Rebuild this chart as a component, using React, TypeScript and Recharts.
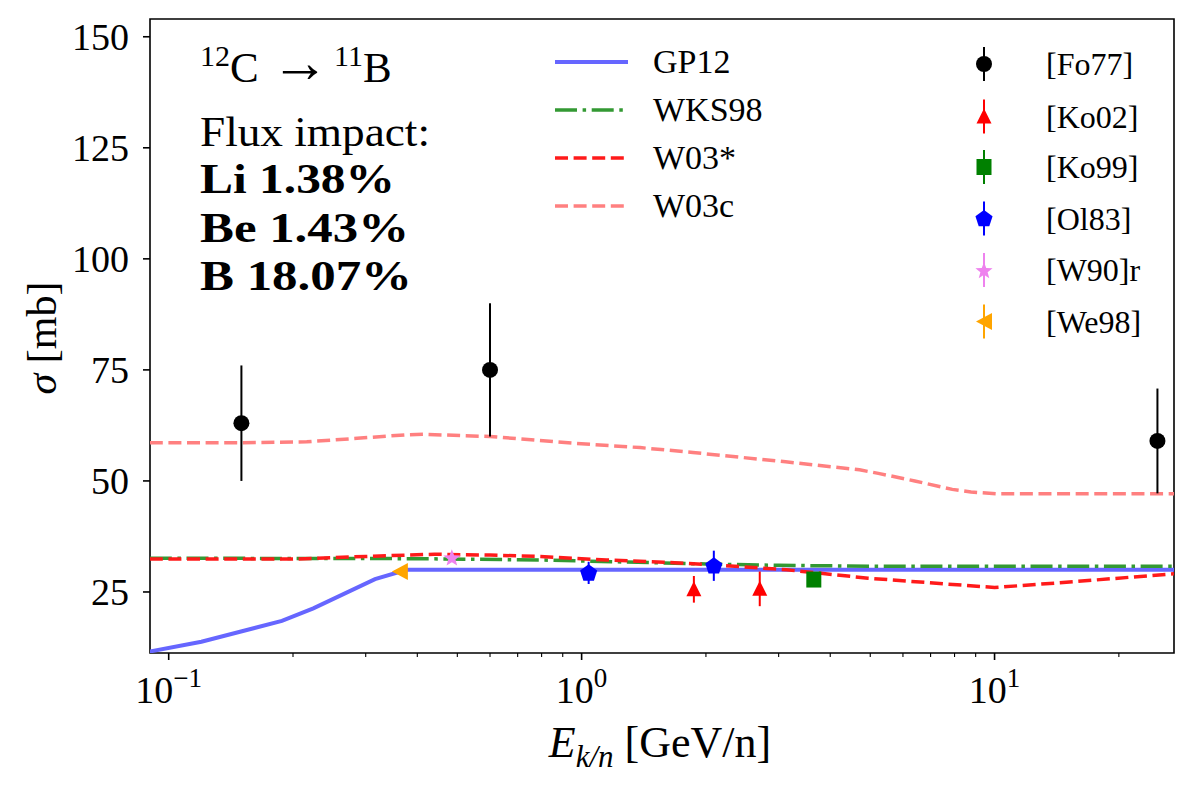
import React from "react";
import { ComposedChart, Line, Scatter, XAxis, YAxis, ErrorBar, ReferenceArea } from "recharts";

const FONT = "'Liberation Serif', 'DejaVu Serif', serif";

// axes
const X_DOMAIN: [number, number] = [0.0901, 27.2];
const Y_DOMAIN: [number, number] = [11.26, 154];
const X_MAJOR = [0.1, 1, 10];
const X_MINOR = [0.2, 0.3, 0.4, 0.5, 0.6, 0.7, 0.8, 0.9, 2, 3, 4, 5, 6, 7, 8, 9, 20];
const Y_TICKS = [25, 50, 75, 100, 125, 150];

// model curves (E in GeV/n, sigma in mb)
const GP12_E = [0.09, 0.12, 0.188, 0.224, 0.316, 0.377, 27.2];
const GP12_S = [11.6, 13.8, 18.5, 21.3, 27.9, 30.0, 30.0];

const WKS98_E = [0.09, 0.4, 0.8, 1.2, 2, 3, 5, 27.2];
const WKS98_S = [32.6, 32.5, 32.2, 31.8, 31.3, 31.0, 30.8, 30.8];

const W03S_E = [0.09, 0.2, 0.3, 0.44, 0.6, 0.78, 1.15, 1.58, 2.09, 3.13, 4.94, 10, 15.5, 27.2];
const W03S_S = [32.4, 32.4, 33.0, 33.5, 33.3, 33.0, 32.2, 31.7, 31.1, 30.0, 28.1, 26.0, 27.3, 29.1];

const W03C_E = [0.09, 0.15, 0.216, 0.286, 0.377, 0.414, 0.6, 0.953, 1.386, 1.86, 3.12, 4.71, 5.23, 6.41, 7.9, 8.77, 10.1, 27.2];
const W03C_S = [58.6, 58.6, 58.8, 59.6, 60.4, 60.5, 60.0, 58.5, 57.5, 56.4, 54.3, 52.5, 51.7, 50.0, 48.1, 47.5, 47.1, 47.1];

// measurements
const FO77_E = [0.15, 0.6, 24.8];
const FO77_S = [63, 75, 59];
const FO77_ERR = [13, 15, 11.8];

const KO02_E = [1.87, 2.7];
const KO02_S = [25.6, 25.7];
const KO02_ERR = [3, 3.9];

const KO99_E = [3.65];
const KO99_S = [27.8];
const KO99_ERR = [1.2];

const OL83_E = [1.04, 2.09];
const OL83_S = [29.3, 30.9];
const OL83_ERR = [2.5, 3.4];

const W90R_E = [0.485];
const W90R_S = [32.8];
const W90R_ERR = [0.8];

const WE98_E = [0.363];
const WE98_S = [29.6];
const WE98_ERR = [0.5];

const zip = (e: number[], s: number[], err?: number[]) =>
  e.map((x, i) => ({ x, y: s[i], err: err ? err[i] : 0 }));

const gp12 = zip(GP12_E, GP12_S);
const wks98 = zip(WKS98_E, WKS98_S);
const w03s = zip(W03S_E, W03S_S);
const w03c = zip(W03C_E, W03C_S);
const fo77 = zip(FO77_E, FO77_S, FO77_ERR);
const ko02 = zip(KO02_E, KO02_S, KO02_ERR);
const ko99 = zip(KO99_E, KO99_S, KO99_ERR);
const ol83 = zip(OL83_E, OL83_S, OL83_ERR);
const w90r = zip(W90R_E, W90R_S, W90R_ERR);
const we98 = zip(WE98_E, WE98_S, WE98_ERR);

// marker shapes
function polyPts(cx: number, cy: number, pts: number[][]) {
  return pts.map(([dx, dy]) => `${cx + dx},${cy + dy}`).join(" ");
}
function starPts(r: number, ri: number) {
  const p: number[][] = [];
  for (let i = 0; i < 10; i++) {
    const a = -Math.PI / 2 + (i * Math.PI) / 5;
    const rr = i % 2 === 0 ? r : ri;
    p.push([rr * Math.cos(a), rr * Math.sin(a)]);
  }
  return p;
}
function pentPts(r: number) {
  const p: number[][] = [];
  for (let i = 0; i < 5; i++) {
    const a = -Math.PI / 2 + (i * 2 * Math.PI) / 5;
    p.push([r * Math.cos(a), r * Math.sin(a)]);
  }
  return p;
}

const Marker = ({ kind, cx, cy, color }: { kind: string; cx: number; cy: number; color: string }) => {
  switch (kind) {
    case "circle":
      return <circle cx={cx} cy={cy} r={8} fill={color} />;
    case "tri":
      return <polygon points={polyPts(cx, cy, [[0, -8], [-7.5, 7], [7.5, 7]])} fill={color} />;
    case "square":
      return <rect x={cx - 7.5} y={cy - 8} width={15} height={16} fill={color} />;
    case "pent":
      return <polygon points={polyPts(cx, cy + 0.5, pentPts(9))} fill={color} />;
    case "star":
      return <polygon points={polyPts(cx, cy + 1, starPts(9, 3.8))} fill={color} />;
    case "left":
      return <polygon points={polyPts(cx, cy, [[-8, 0], [8, -8.5], [8, 8.5]])} fill={color} />;
    default:
      return null;
  }
};

const shape = (kind: string, color: string) => (p: any) => <Marker kind={kind} cx={p.cx} cy={p.cy} color={color} />;

const XTick = (props: any) => {
  const { x, y, payload } = props;
  const v = payload.value;
  const major = X_MAJOR.some((m) => Math.abs(m - v) < 1e-9);
  const exp = Math.round(Math.log10(v));
  return (
    <g>
      <line x1={x} x2={x} y1={y} y2={y + (major ? 7 : 4)} stroke="#000" strokeWidth={major ? 1.6 : 1.1} />
      {major && (
        <text x={x} y={y + 50} textAnchor="middle" fontFamily={FONT} fontSize={38} fill="#000">
          10
          <tspan dy={-16} fontSize={27}>
            {exp < 0 ? "\u2212" + -exp : String(exp)}
          </tspan>
        </text>
      )}
    </g>
  );
};

const YTick = (props: any) => {
  const { x, y, payload } = props;
  return (
    <g>
      <line x1={x - 7} x2={x} y1={y} y2={y} stroke="#000" strokeWidth={1.6} />
      <text x={x - 21} y={y + 13} textAnchor="end" fontFamily={FONT} fontSize={38} fill="#000">
        {payload.value}
      </text>
    </g>
  );
};

const LINES = [
  { name: "GP12", color: "#6666ff", dash: undefined as string | undefined, w: 4 },
  { name: "WKS98", color: "#339933", dash: "22 5.6 3.5 5.6", w: 3.5 },
  { name: "W03*", color: "#ff1a1a", dash: "13 5.6", w: 3.5 },
  { name: "W03c", color: "#ff8080", dash: "13 5.6", w: 3.5 },
];

const POINTS = [
  { name: "[Fo77]", kind: "circle", color: "#000000" },
  { name: "[Ko02]", kind: "tri", color: "#ff0000" },
  { name: "[Ko99]", kind: "square", color: "#008000" },
  { name: "[Ol83]", kind: "pent", color: "#0000ff" },
  { name: "[W90]r", kind: "star", color: "#ee82ee" },
  { name: "[We98]", kind: "left", color: "#ffa500" },
];

function Overlay() {
  const leftRows = [62, 110, 158, 206];
  const rightRows = [64, 116.5, 167, 218.5, 270, 321.5];
  const bold = [
    { t: "Li 1.38%", y: 193, len: 195 },
    { t: "Be 1.43%", y: 242, len: 209 },
    { t: "B 18.07%", y: 290, len: 212 },
  ];
  return (
    <svg width={1193} height={787} style={{ position: "absolute", left: 0, top: 0, pointerEvents: "none" }}>
      {/* reaction */}
      <text x={200} y={82} fontFamily={FONT} fontSize={43} fill="#000">
        <tspan fontSize={30} dy={-16}>12</tspan>
        <tspan dy={16}>C</tspan>
      </text>
      <text x={271} y={82} fontFamily={FONT} fontSize={58} fill="#000">{"\u2192"}</text>
      <text x={334} y={82} fontFamily={FONT} fontSize={43} fill="#000">
        <tspan fontSize={30} dy={-16}>11</tspan>
        <tspan dy={16}>B</tspan>
      </text>
      <text x={200} y={146} fontFamily={FONT} fontSize={43} fill="#000" textLength={230} lengthAdjust="spacingAndGlyphs">
        Flux impact:
      </text>
      {bold.map((b) => (
        <text
          key={b.t}
          x={200}
          y={b.y}
          fontFamily={FONT}
          fontSize={43}
          fontWeight="bold"
          fill="#000"
          textLength={b.len}
          lengthAdjust="spacingAndGlyphs"
        >
          {b.t}
        </text>
      ))}

      {/* line legend */}
      {LINES.map((l, i) => (
        <g key={l.name}>
          <line x1={555} x2={628} y1={leftRows[i]} y2={leftRows[i]} stroke={l.color} strokeWidth={l.w} strokeDasharray={l.dash} />
          <text x={653} y={leftRows[i] + 11} fontFamily={FONT} fontSize={34} fill="#000">{l.name}</text>
        </g>
      ))}

      {/* point legend */}
      {POINTS.map((p, i) => (
        <g key={p.name}>
          <line x1={984} x2={984} y1={rightRows[i] - 17} y2={rightRows[i] + 17} stroke={p.color} strokeWidth={2} />
          <Marker kind={p.kind} cx={984} cy={rightRows[i]} color={p.color} />
          <text x={1046} y={rightRows[i] + 11} fontFamily={FONT} fontSize={32} fill="#000">{p.name}</text>
        </g>
      ))}

      {/* axis labels */}
      <text x={660} y={757} textAnchor="middle" fontFamily={FONT} fontSize={44} fill="#000">
        <tspan fontStyle="italic">E</tspan>
        <tspan fontStyle="italic" fontSize={31} dy={10}>k/n</tspan>
        <tspan dy={-10}> [GeV/n]</tspan>
      </text>
      <text
        x={56}
        y={338}
        textAnchor="middle"
        fontFamily={FONT}
        fontSize={42}
        fill="#000"
        transform="rotate(-90 56 338)"
      >
        <tspan fontStyle="italic">{"\u03c3"}</tspan> [mb]
      </text>
    </svg>
  );
}

export default function App() {
  return (
    <div style={{ position: "absolute", left: 0, top: 0, width: 1193, height: 787, background: "#fff" }}>
      <ComposedChart width={1193} height={787} margin={{ top: 19, right: 19, left: 0, bottom: 0 }}>
        <XAxis
          dataKey="x"
          type="number"
          scale="log"
          domain={X_DOMAIN}
          allowDataOverflow
          ticks={[...X_MAJOR, ...X_MINOR].sort((a, b) => a - b)}
          interval={0}
          height={134}
          tickSize={0}
          tickMargin={0}
          tickLine={false}
          axisLine={false}
          tick={<XTick />}
        />
        <YAxis
          type="number"
          domain={Y_DOMAIN}
          allowDataOverflow
          ticks={Y_TICKS}
          interval={0}
          width={150}
          tickSize={0}
          tickMargin={0}
          tickLine={false}
          axisLine={false}
          tick={<YTick />}
        />
        <Line data={w03c} dataKey="y" stroke="#ff8080" strokeWidth={3.5} strokeDasharray="13 5.6" dot={false} isAnimationActive={false} />
        <Line data={gp12} dataKey="y" stroke="#6666ff" strokeWidth={4} dot={false} isAnimationActive={false} />
        <Line data={wks98} dataKey="y" stroke="#339933" strokeWidth={3.5} strokeDasharray="22 5.6 3.5 5.6" dot={false} isAnimationActive={false} />
        <Line data={w03s} dataKey="y" stroke="#ff1a1a" strokeWidth={3.5} strokeDasharray="13 5.6" dot={false} isAnimationActive={false} />

        <Scatter data={fo77} dataKey="y" shape={shape("circle", "#000000")} isAnimationActive={false}>
          <ErrorBar dataKey="err" direction="y" width={0} stroke="#000000" strokeWidth={2} />
        </Scatter>
        <Scatter data={ko02} dataKey="y" shape={shape("tri", "#ff0000")} isAnimationActive={false}>
          <ErrorBar dataKey="err" direction="y" width={0} stroke="#ff0000" strokeWidth={2} />
        </Scatter>
        <Scatter data={ko99} dataKey="y" shape={shape("square", "#008000")} isAnimationActive={false}>
          <ErrorBar dataKey="err" direction="y" width={0} stroke="#008000" strokeWidth={2} />
        </Scatter>
        <Scatter data={ol83} dataKey="y" shape={shape("pent", "#0000ff")} isAnimationActive={false}>
          <ErrorBar dataKey="err" direction="y" width={0} stroke="#0000ff" strokeWidth={2} />
        </Scatter>
        <Scatter data={w90r} dataKey="y" shape={shape("star", "#ee82ee")} isAnimationActive={false}>
          <ErrorBar dataKey="err" direction="y" width={0} stroke="#ee82ee" strokeWidth={2} />
        </Scatter>
        <Scatter data={we98} dataKey="y" shape={shape("left", "#ffa500")} isAnimationActive={false}>
          <ErrorBar dataKey="err" direction="y" width={0} stroke="#ffa500" strokeWidth={2} />
        </Scatter>

        <ReferenceArea
          x1={X_DOMAIN[0]}
          x2={X_DOMAIN[1]}
          y1={Y_DOMAIN[0]}
          y2={Y_DOMAIN[1]}
          fill="none"
          stroke="#000"
          strokeWidth={1.6}
          ifOverflow="visible"
        />
      </ComposedChart>
      <Overlay />
    </div>
  );
}
